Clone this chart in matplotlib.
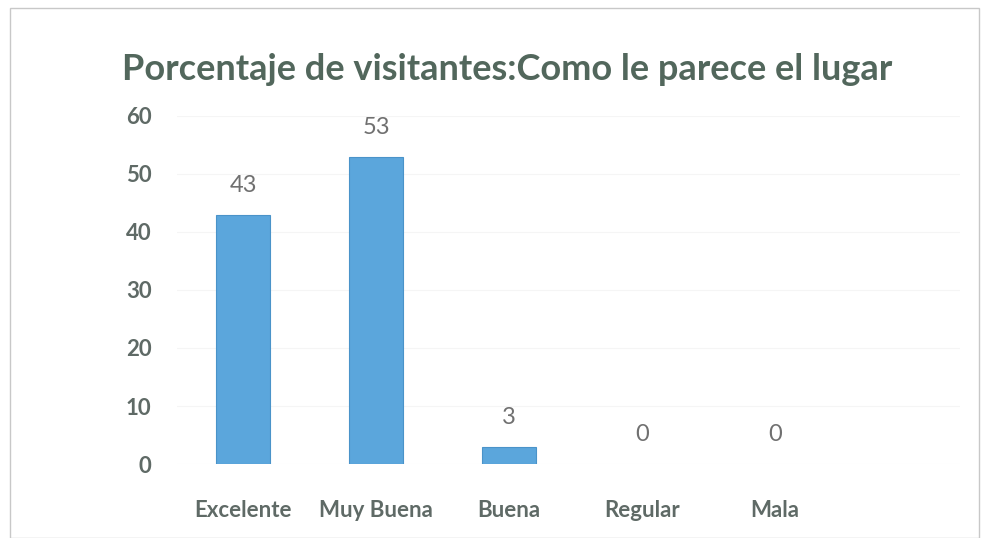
import matplotlib.pyplot as plt
from matplotlib.patches import Rectangle

# Data
categories = ["Excelente", "Muy Buena", "Buena", "Regular", "Mala"]
values = [43, 53, 3, 0, 0]
y_ticks = [0, 10, 20, 30, 40, 50, 60]

plt.rcParams["font.family"] = ["Lato", "DejaVu Sans"]

fig = plt.figure(figsize=(9.94, 5.38), dpi=100)
ax = fig.add_axes([0.1776, 0.1375, 0.788, 0.647])

x = range(len(categories))
bars = ax.bar(x, values, width=0.41, color="#5ba6dc", edgecolor="#4a93c9",
              linewidth=[0.8 if v > 0 else 0 for v in values])

for xi, v in zip(x, values):
    ax.annotate(str(v), (xi, v), xytext=(0, 21), textcoords="offset points",
                ha="center", va="center", fontsize=17, color="#707070")

ax.set_xlim(-0.5, 5.39)
ax.set_ylim(0, 60)
ax.set_yticks(y_ticks)
ax.set_xticks(list(x))
ax.set_xticklabels(categories, fontsize=16, fontweight="bold", color="#5f6a66")
ax.tick_params(axis="x", length=0, pad=26)
ax.tick_params(axis="y", length=0, pad=18, labelsize=16, labelcolor="#5f6a66")
for lab in ax.get_yticklabels():
    lab.set_fontweight("bold")

ax.grid(axis="y", color="#f5f5f5", linewidth=0.8)
ax.set_axisbelow(True)
for s in ax.spines.values():
    s.set_visible(False)

fig.text(0.123, 0.87, "Porcentaje de visitantes:Como le parece el lugar",
         fontsize=26, fontweight="bold", color="#52675c", ha="left", va="center")

# outer frame of the chart
fig.patches.append(Rectangle((0.01, 0.0), 0.975, 0.985, transform=fig.transFigure,
                             fill=False, edgecolor="#c8c8c8", linewidth=1))

fig.savefig("out.png", dpi=100)
